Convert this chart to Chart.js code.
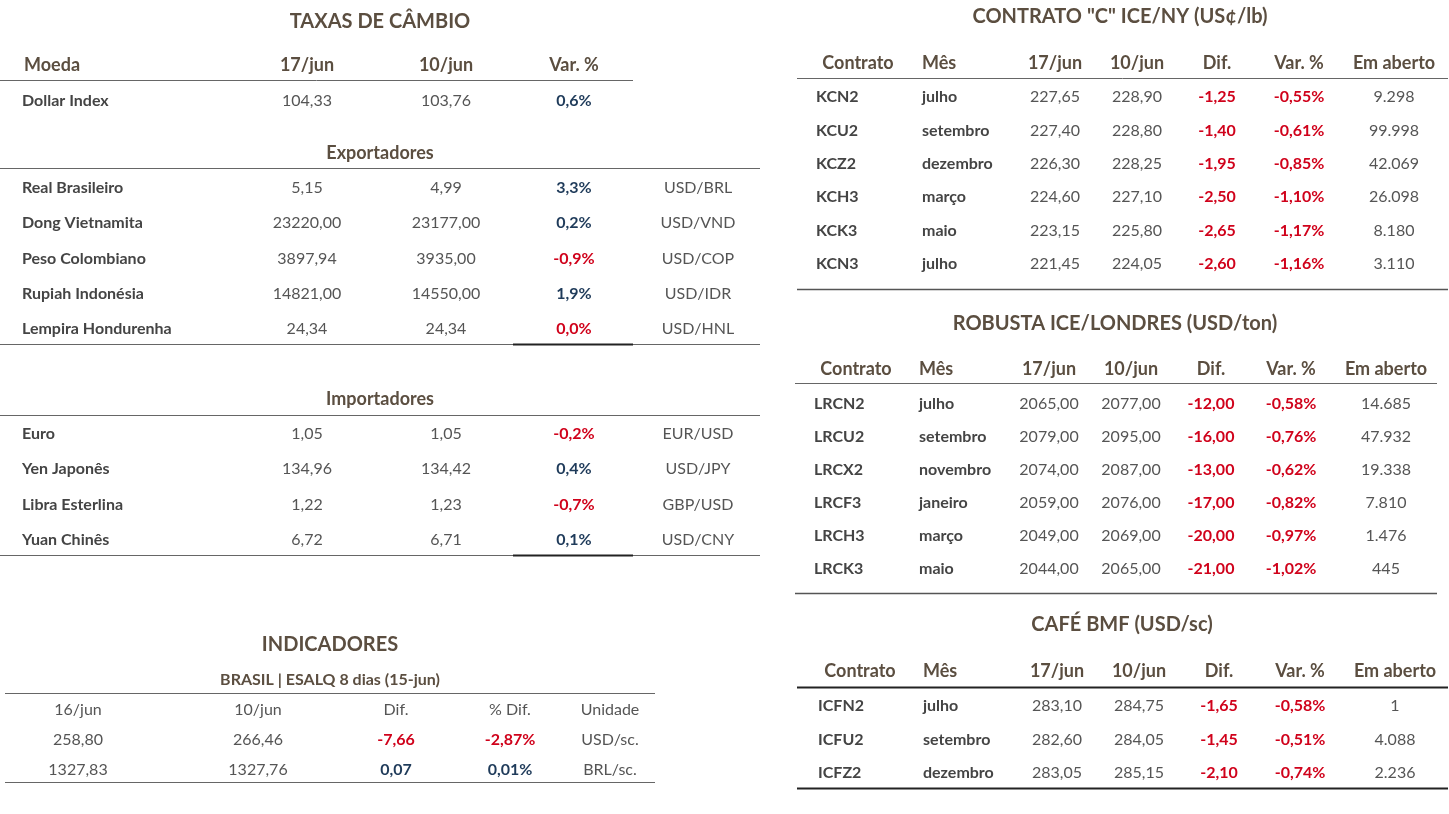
<!DOCTYPE html>
<html><head><meta charset="utf-8">
<script src="https://cdn.jsdelivr.net/npm/chart.js@4"></script>
<style>html,body{margin:0;background:#fff;overflow:hidden}</style>
</head><body>
<canvas id="c" width="1449" height="814"></canvas>
<script>
// --- Data ---
const fxHeader = ['Moeda', '17/jun', '10/jun', 'Var. %'];
const dollarRow = ['Dollar Index', '104,33', '103,76', '0,6%'];
const exporters = [
  ['Real Brasileiro', '5,15', '4,99', '3,3%', 'USD/BRL'],
  ['Dong Vietnamita', '23220,00', '23177,00', '0,2%', 'USD/VND'],
  ['Peso Colombiano', '3897,94', '3935,00', '-0,9%', 'USD/COP'],
  ['Rupiah Indonésia', '14821,00', '14550,00', '1,9%', 'USD/IDR'],
  ['Lempira Hondurenha', '24,34', '24,34', '0,0%', 'USD/HNL']
];
const importers = [
  ['Euro', '1,05', '1,05', '-0,2%', 'EUR/USD'],
  ['Yen Japonês', '134,96', '134,42', '0,4%', 'USD/JPY'],
  ['Libra Esterlina', '1,22', '1,23', '-0,7%', 'GBP/USD'],
  ['Yuan Chinês', '6,72', '6,71', '0,1%', 'USD/CNY']
];
const indHeader = ['16/jun', '10/jun', 'Dif.', '% Dif.', 'Unidade'];
const indRows = [
  ['258,80', '266,46', '-7,66', '-2,87%', 'USD/sc.'],
  ['1327,83', '1327,76', '0,07', '0,01%', 'BRL/sc.']
];
const contHeader = ['Contrato', 'Mês', '17/jun', '10/jun', 'Dif.', 'Var. %', 'Em aberto'];
const nyRows = [
  ['KCN2', 'julho', '227,65', '228,90', '-1,25', '-0,55%', '9.298'],
  ['KCU2', 'setembro', '227,40', '228,80', '-1,40', '-0,61%', '99.998'],
  ['KCZ2', 'dezembro', '226,30', '228,25', '-1,95', '-0,85%', '42.069'],
  ['KCH3', 'março', '224,60', '227,10', '-2,50', '-1,10%', '26.098'],
  ['KCK3', 'maio', '223,15', '225,80', '-2,65', '-1,17%', '8.180'],
  ['KCN3', 'julho', '221,45', '224,05', '-2,60', '-1,16%', '3.110']
];
const ldnRows = [
  ['LRCN2', 'julho', '2065,00', '2077,00', '-12,00', '-0,58%', '14.685'],
  ['LRCU2', 'setembro', '2079,00', '2095,00', '-16,00', '-0,76%', '47.932'],
  ['LRCX2', 'novembro', '2074,00', '2087,00', '-13,00', '-0,62%', '19.338'],
  ['LRCF3', 'janeiro', '2059,00', '2076,00', '-17,00', '-0,82%', '7.810'],
  ['LRCH3', 'março', '2049,00', '2069,00', '-20,00', '-0,97%', '1.476'],
  ['LRCK3', 'maio', '2044,00', '2065,00', '-21,00', '-1,02%', '445']
];
const bmfRows = [
  ['ICFN2', 'julho', '283,10', '284,75', '-1,65', '-0,58%', '1'],
  ['ICFU2', 'setembro', '282,60', '284,05', '-1,45', '-0,51%', '4.088'],
  ['ICFZ2', 'dezembro', '283,05', '285,15', '-2,10', '-0,74%', '2.236']
];

// --- Style ---
const FONT = 'Lato, "Open Sans", sans-serif';
const C_HEAD = '#5b4e40', C_LBL = '#444', C_VAL = '#555', C_RED = '#d0021b', C_NAVY = '#1f3b5a';
// non-positive changes are red in the source sheet (0,0% too)
const varColor = v => (v.startsWith('-') || v === '0,0%') ? C_RED : C_NAVY;

// text/line ops are collected in value space and converted through the chart scales
const ops = [];
function txt(s, x, y, o = {}) { ops.push({t: 'text', s, x, y, ...o}); }
function line(x1, x2, y, o = {}) { ops.push({t: 'line', x1, x2, y, ...o}); }

// Taxas de câmbio
txt('TAXAS DE CÂMBIO', 380, 22, {size: 20, bold: true, color: C_HEAD});
const fxCols = [[22, 'left'], [307], [446], [574], [698]];
fxHeader.forEach((h, i) => txt(h, fxCols[i][0] + (i === 0 ? 2 : 0), 65, {align: fxCols[i][1], size: 18, bold: true, color: C_HEAD}));
line(0, 633, 80);
function fxRow(r, y) {
  r.forEach((v, i) => txt(v, fxCols[i][0], y, {align: fxCols[i][1], size: 16,
    bold: i === 0 || i === 3, color: i === 0 ? C_LBL : i === 3 ? varColor(v) : C_VAL}));
}
fxRow(dollarRow, 101);
txt('Exportadores', 380, 153, {size: 18, bold: true, color: C_HEAD});
line(0, 760, 168);
exporters.forEach((r, k) => fxRow(r, 188 + k * 35.2));
line(0, 760, 344); line(513, 633, 344, {w: 2, color: '#222'});
txt('Importadores', 380, 399, {size: 18, bold: true, color: C_HEAD});
line(0, 760, 415);
importers.forEach((r, k) => fxRow(r, 434 + k * 35.3));
line(0, 760, 555); line(513, 633, 555, {w: 2, color: '#222'});

// Indicadores
txt('INDICADORES', 330, 645, {size: 20, bold: true, color: C_HEAD});
txt('BRASIL | ESALQ 8 dias (15-jun)', 330, 680, {size: 16, bold: true, color: C_HEAD});
line(5, 655, 693);
const indCols = [78, 258, 396, 510, 610];
indHeader.forEach((h, i) => txt(h, indCols[i], 710, {size: 16, color: C_VAL}));
indRows.forEach((r, k) => r.forEach((v, i) => txt(v, indCols[i], 740 + k * 30, {size: 16,
  bold: i === 2 || i === 3, color: i === 2 || i === 3 ? varColor(v) : C_VAL})));
line(5, 655, 782);

// Contract tables
function contTable(title, tx, ty, hy, lineY, rows, ry, rh, cols, x1, x2, endY, thick) {
  txt(title, tx, ty, {size: 20, bold: true, color: C_HEAD});
  contHeader.forEach((h, i) => txt(h, cols[i][0], hy, {align: cols[i][1], size: 18, bold: true, color: C_HEAD}));
  line(x1, x2, lineY, thick ? {w: 2, color: '#222'} : {});
  rows.forEach((r, k) => r.forEach((v, i) => {
    const x = i === 0 ? cols[0][2] : cols[i][0];
    txt(v, x, ry + k * rh, {align: i <= 1 ? 'left' : 'center', size: 16,
      bold: i <= 1 || i === 4 || i === 5,
      color: i <= 1 ? C_LBL : (i === 4 || i === 5) ? varColor(v) : C_VAL});
  }));
  line(x1, x2, endY, thick ? {w: 2, color: '#222'} : {w: 1.5, color: '#555'});
}
contTable('CONTRATO "C" ICE/NY (US¢/lb)', 1120, 17, 63, 78, nyRows, 97, 33.4,
  [[858, 'center', 816], [922, 'left'], [1055], [1137], [1217], [1299], [1394]], 797, 1448, 289);
contTable('ROBUSTA ICE/LONDRES (USD/ton)', 1115, 324, 369, 383, ldnRows, 404, 33,
  [[856, 'center', 814], [919, 'left'], [1049], [1131], [1211], [1291], [1386]], 795, 1437, 593);
contTable('CAFÉ BMF (USD/sc)', 1122, 625, 671, 687, bmfRows, 706, 33.5,
  [[860, 'center', 818], [923, 'left'], [1057], [1139], [1219], [1300], [1395]], 797, 1448, 788, true);

// --- Chart: hidden pixel-space scales, plugin draws the table ---
const tablePlugin = {
  id: 'table',
  afterDraw(chart) {
    const {ctx, scales: {x, y}} = chart;
    ctx.save();
    ops.forEach(o => {
      if (o.t === 'line') {
        ctx.strokeStyle = o.color || '#666'; ctx.lineWidth = o.w || 1;
        const py = Math.round(y.getPixelForValue(o.y)) + 0.5;
        ctx.beginPath(); ctx.moveTo(x.getPixelForValue(o.x1), py); ctx.lineTo(x.getPixelForValue(o.x2), py); ctx.stroke();
      } else {
        ctx.font = (o.bold ? '700 ' : '400 ') + (o.size || 16) + 'px ' + FONT;
        ctx.fillStyle = o.color || C_VAL; ctx.textAlign = o.align || 'center'; ctx.textBaseline = 'middle';
        ctx.fillText(o.s, x.getPixelForValue(o.x), y.getPixelForValue(o.y));
      }
    });
    ctx.restore();
  }
};
new Chart(document.getElementById('c'), {
  type: 'scatter',
  data: {datasets: [{data: []}]},
  options: {
    responsive: false, animation: false, devicePixelRatio: 1,
    layout: {padding: 0},
    plugins: {legend: {display: false}, tooltip: {enabled: false}},
    scales: {
      x: {type: 'linear', min: 0, max: 1449, display: false},
      y: {type: 'linear', min: 0, max: 814, reverse: true, display: false}
    }
  },
  plugins: [tablePlugin]
});
</script>
</body></html>
